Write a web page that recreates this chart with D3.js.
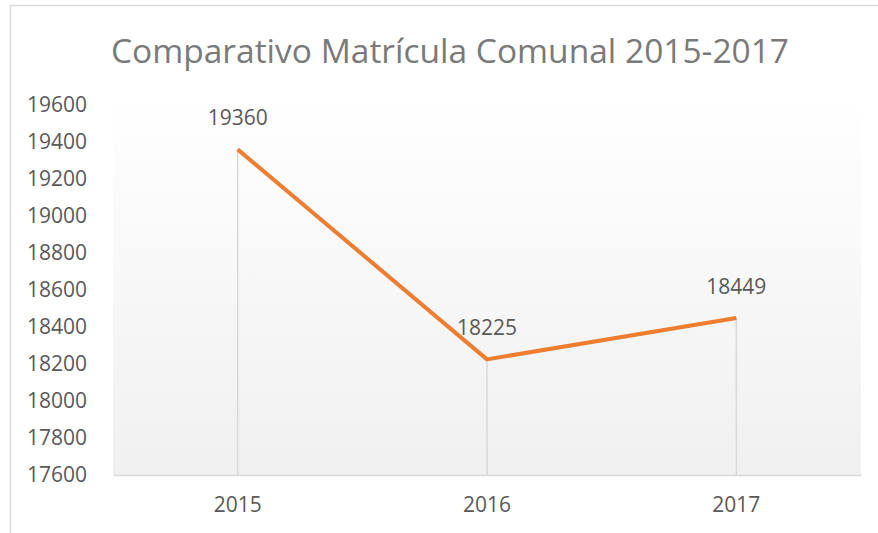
<!DOCTYPE html>
<html>
<head>
<meta charset="utf-8">
<script src="https://cdn.jsdelivr.net/npm/d3@7"></script>
<style>
  body { margin: 0; background: #fff; }
  text { font-family: "Open Sans", sans-serif; }
</style>
</head>
<body>
<div id="chart"></div>
<script>
// chart data
var years = ["2015", "2016", "2017"];
var matricula = [19360, 18225, 18449];
var yTicks = [17600, 17800, 18000, 18200, 18400, 18600, 18800, 19000, 19200, 19400, 19600];

var W = 878, H = 533;
var margin = { left: 113, right: 17, top: 105, bottom: 58 };
var width = W - margin.left - margin.right,
    height = H - margin.top - margin.bottom;

var root = d3.select("#chart").append("svg")
    .attr("width", W)
    .attr("height", H);

// chart frame
root.append("rect")
    .attr("x", 10.5).attr("y", 5.5)
    .attr("width", W + 10).attr("height", H + 10)
    .attr("fill", "none")
    .attr("stroke", "#d9d9d9")
    .attr("stroke-width", 1.5);

// background gradient
var grad = root.append("defs").append("linearGradient")
    .attr("id", "bg").attr("x1", 0).attr("y1", 0).attr("x2", 0).attr("y2", 1);
grad.append("stop").attr("offset", "0%").attr("stop-color", "#ffffff");
grad.append("stop").attr("offset", "100%").attr("stop-color", "#f0f0f0");

// title
root.append("text")
    .attr("x", 450)
    .attr("y", 63)
    .attr("text-anchor", "middle")
    .attr("font-size", "33.5px")
    .attr("fill", "#7a7a7a")
    .text("Comparativo Matrícula Comunal 2015-2017");

var svg = root.append("g")
    .attr("transform", "translate(" + margin.left + "," + margin.top + ")");

var x = d3.scaleBand().domain(years).range([0, width]);
var y = d3.scaleLinear().domain([17600, 19600]).range([height, 0]);

svg.append("rect")
    .attr("x", 0).attr("y", -10)
    .attr("width", width).attr("height", height + 10)
    .attr("fill", "url(#bg)");

// y axis (labels only)
var yAxis = svg.append("g")
    .attr("transform", "translate(-23,0)")
    .call(d3.axisLeft(y).tickValues(yTicks).tickSize(0).tickFormat(d3.format("d")));
yAxis.select(".domain").remove();
yAxis.selectAll("text")
    .attr("font-size", "21px")
    .attr("fill", "#595959")
    .attr("font-family", "Open Sans");

// x axis
var xAxis = svg.append("g")
    .attr("transform", "translate(0," + height + ")")
    .call(d3.axisBottom(x).tickSize(0).tickPadding(22));
xAxis.select(".domain").attr("stroke", "#d9d9d9").attr("stroke-width", 1.5);
xAxis.selectAll("text")
    .attr("font-size", "21px")
    .attr("fill", "#595959")
    .attr("font-family", "Open Sans");

var cx = function(d, i) { return x(years[i]) + x.bandwidth() / 2; };

// drop lines
svg.selectAll(".drop").data(matricula).enter().append("line")
    .attr("class", "drop")
    .attr("x1", cx).attr("x2", cx)
    .attr("y1", function(d) { return y(d); })
    .attr("y2", height)
    .attr("stroke", "#d9d9d9")
    .attr("stroke-width", 1.5);

// the line
var line = d3.line()
    .x(function(d, i) { return cx(d, i); })
    .y(function(d) { return y(d); });

svg.append("path")
    .datum(matricula)
    .attr("d", line)
    .attr("fill", "none")
    .attr("stroke", "#ed7d31")
    .attr("stroke-width", 4)
    .attr("stroke-linejoin", "round");

// data labels
svg.selectAll(".lbl").data(matricula).enter().append("text")
    .attr("class", "lbl")
    .attr("x", cx)
    .attr("y", function(d) { return y(d) - 24; })
    .attr("text-anchor", "middle")
    .attr("font-size", "21px")
    .attr("fill", "#595959")
    .text(function(d) { return d; });
</script>
</body>
</html>
